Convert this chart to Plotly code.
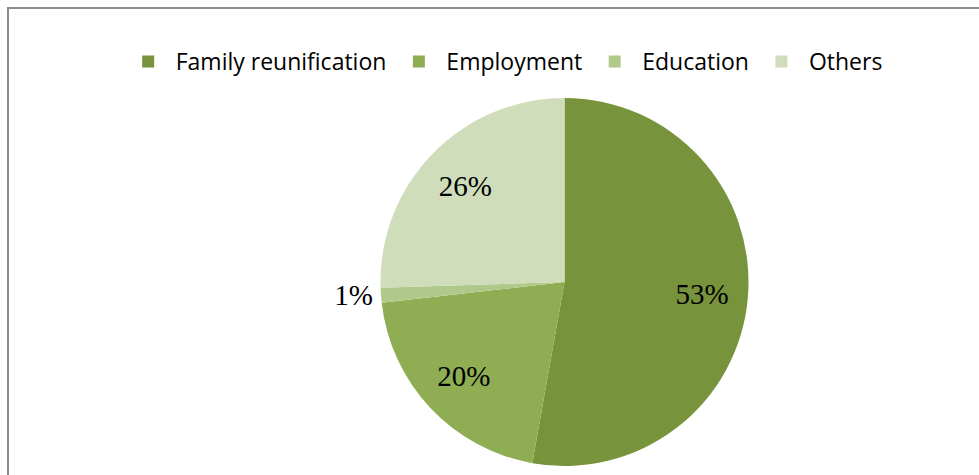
import plotly.graph_objects as go

categories = ["Family reunification", "Employment", "Education", "Others"]
values = [52.8, 20.4, 1.3, 25.5]
labels_text = ["53%", "20%", "1%", "26%"]
colors = ["#77933C", "#8FAE54", "#AFC98A", "#CFDDBB"]
positions = ["inside", "inside", "outside", "inside"]

W, H = 979, 475
cx, cy, r = 564.5, 282, 184
dom = dict(x=[(cx - r) / W, (cx + r) / W], y=[(H - cy - r) / H, (H - cy + r) / H])

fig = go.Figure()
# coloured slices (legend source)
fig.add_trace(go.Pie(
    labels=categories, values=values,
    textinfo="none",
    marker=dict(colors=colors, line=dict(width=0)),
    sort=False, direction="clockwise", rotation=0,
    domain=dom, hoverinfo="label+percent",
))
# transparent ring carrying the data labels at ~3/4 radius
fig.add_trace(go.Pie(
    labels=categories, values=values,
    text=labels_text, textinfo="text",
    textposition=positions,
    insidetextorientation="horizontal",
    textfont=dict(family="Liberation Serif", size=29, color="#000000"),
    hole=0.5,
    marker=dict(colors=["rgba(0,0,0,0)"] * 4, line=dict(width=0)),
    sort=False, direction="clockwise", rotation=0,
    domain=dom, hoverinfo="skip", showlegend=False,
))

fig.update_layout(
    width=W, height=H,
    margin=dict(l=0, r=0, t=0, b=0),
    paper_bgcolor="#FFFFFF",
    plot_bgcolor="#FFFFFF",
    showlegend=True,
    legend=dict(
        orientation="h",
        x=0.515, xanchor="center",
        y=(H - 40) / H, yanchor="top",
        font=dict(family="Open Sans", size=23, color="#000000"),
        itemwidth=45,
        traceorder="normal",
    ),
    shapes=[dict(
        type="rect", xref="paper", yref="paper",
        x0=8 / W, x1=1.02, y0=-0.02, y1=(H - 8) / H,
        line=dict(color="#8C8C8C", width=2),
    )],
)

fig.write_html("out.html")
